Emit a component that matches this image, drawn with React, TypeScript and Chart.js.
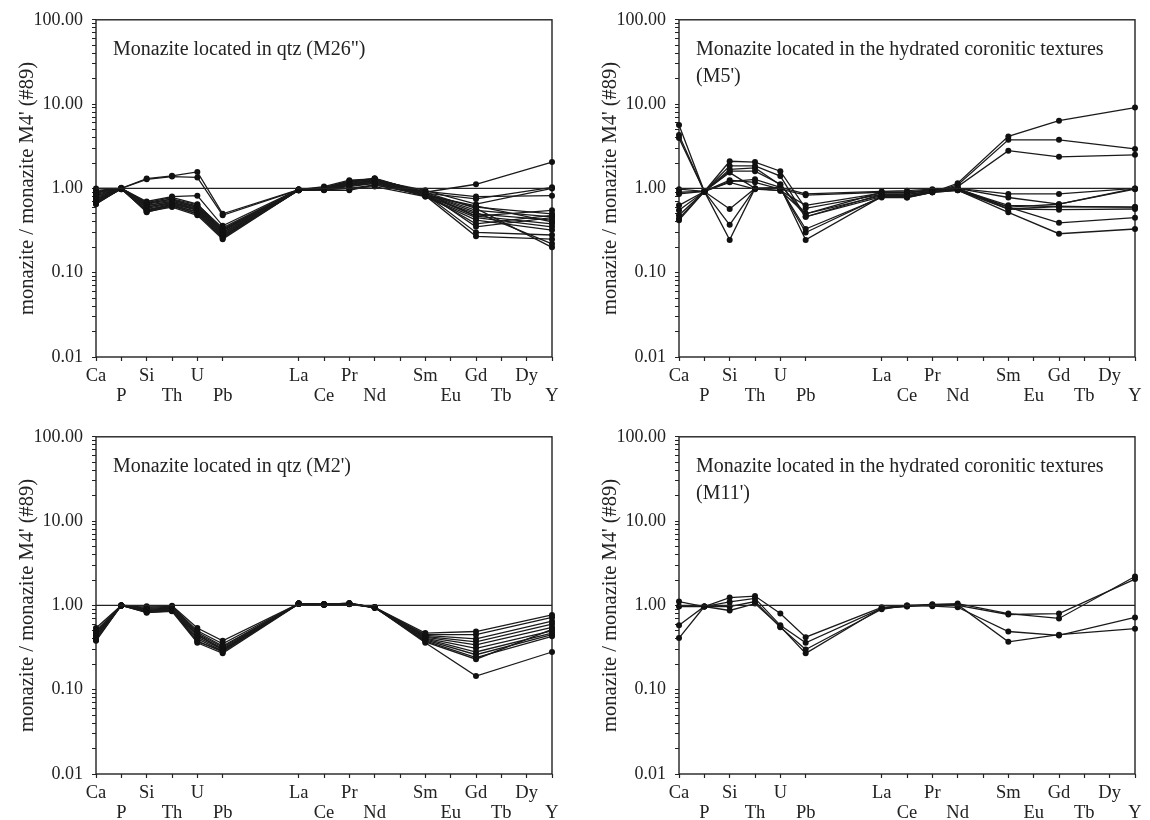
import React, { useEffect, useRef } from 'react';
import { Chart, registerables } from 'chart.js';

Chart.register(...registerables);

// ---- categories / axes ----
const measuredElements = ['Ca', 'P', 'Si', 'Th', 'U', 'Pb', 'La', 'Ce', 'Pr', 'Nd', 'Sm', 'Gd', 'Y'];
const elementPos: Record<string, number> = {
  Ca: 0, P: 1, Si: 2, Th: 3, U: 4, Pb: 5, La: 8, Ce: 9, Pr: 10, Nd: 11,
  Sm: 13, Eu: 14, Gd: 15, Tb: 16, Dy: 17, Y: 18,
};
const xTickPositions = [0, 1, 2, 3, 4, 5, 8, 9, 10, 11, 12, 13, 14, 15, 16, 17, 18];
const upperRowLabels = ['Ca', 'Si', 'U', 'La', 'Pr', 'Sm', 'Gd', 'Dy'];
const lowerRowLabels = ['P', 'Th', 'Pb', 'Ce', 'Nd', 'Eu', 'Tb', 'Y'];
const yMajorTicks = [0.01, 0.1, 1, 10, 100];
const yAxisTitle = "monazite / monazite M4' (#89)";

// ---- series (Ca, P, Si, Th, U, Pb, La, Ce, Pr, Nd, Sm, Gd, Y) ----
const seriesM26 = [
  [1.0, 1.0, 1.31, 1.41, 1.57, 0.5, 0.97, 1.05, 1.25, 1.3, 0.9, 1.12, 2.05],
  [0.95, 1.0, 1.28, 1.38, 1.35, 0.48, 0.96, 1.0, 1.2, 1.32, 0.88, 0.75, 1.03],
  [0.9, 1.0, 0.7, 0.8, 0.82, 0.36, 0.97, 1.0, 1.1, 1.2, 0.92, 0.8, 0.82],
  [0.85, 1.0, 0.68, 0.78, 0.65, 0.33, 0.96, 0.98, 1.15, 1.25, 0.95, 0.65, 1.0],
  [0.8, 1.0, 0.65, 0.72, 0.62, 0.32, 0.95, 0.98, 1.0, 1.1, 0.85, 0.6, 0.5],
  [0.78, 0.98, 0.62, 0.7, 0.6, 0.3, 0.96, 1.02, 1.22, 1.28, 0.87, 0.55, 0.46],
  [0.75, 1.0, 0.6, 0.68, 0.58, 0.3, 0.95, 0.97, 1.05, 1.15, 0.82, 0.5, 0.42],
  [0.72, 1.02, 0.58, 0.66, 0.55, 0.28, 0.97, 0.95, 0.95, 1.1, 0.83, 0.47, 0.38],
  [0.7, 1.0, 0.56, 0.64, 0.52, 0.27, 0.96, 1.0, 1.1, 1.2, 0.8, 0.45, 0.35],
  [0.68, 0.98, 0.54, 0.62, 0.5, 0.26, 0.95, 0.96, 1.0, 1.05, 0.8, 0.42, 0.32],
  [0.66, 1.0, 0.53, 0.6, 0.48, 0.25, 0.96, 1.0, 1.18, 1.3, 0.85, 0.3, 0.28],
  [0.65, 1.0, 0.52, 0.62, 0.5, 0.26, 0.95, 0.98, 1.1, 1.22, 0.82, 0.27, 0.25],
  [0.7, 1.0, 0.55, 0.65, 0.56, 0.28, 0.97, 1.02, 1.2, 1.25, 0.86, 0.52, 0.22],
  [0.82, 1.0, 0.66, 0.75, 0.64, 0.34, 0.96, 1.0, 1.15, 1.22, 0.9, 0.58, 0.2],
  [0.88, 1.0, 0.63, 0.7, 0.6, 0.31, 0.97, 1.0, 1.1, 1.18, 0.88, 0.47, 0.55],
  [0.74, 1.0, 0.6, 0.67, 0.57, 0.29, 0.96, 0.99, 1.12, 1.2, 0.84, 0.38, 0.48],
  [0.92, 1.0, 0.67, 0.74, 0.61, 0.32, 0.96, 1.0, 1.2, 1.3, 0.9, 0.35, 0.45],
  [0.67, 0.99, 0.55, 0.63, 0.53, 0.27, 0.95, 0.98, 1.08, 1.15, 0.83, 0.62, 0.4],
];

const seriesM5 = [
  [5.65, 0.92, 1.85, 1.85, 1.4, 0.46, 0.8, 0.8, 0.9, 1.15, 4.14, 6.35, 9.1],
  [4.3, 0.92, 1.68, 1.75, 1.1, 0.5, 0.82, 0.82, 0.9, 1.1, 3.77, 3.77, 2.94],
  [3.95, 0.92, 2.1, 2.05, 1.6, 0.58, 0.85, 0.85, 0.92, 1.05, 2.8, 2.37, 2.5],
  [0.98, 0.92, 1.2, 1.28, 1.03, 0.86, 0.92, 0.94, 0.98, 1.0, 0.86, 0.86, 1.0],
  [0.86, 0.92, 1.25, 1.18, 0.98, 0.83, 0.9, 0.9, 0.96, 1.0, 0.78, 0.65, 0.98],
  [0.63, 0.92, 1.54, 1.0, 0.94, 0.63, 0.88, 0.88, 0.95, 0.98, 0.63, 0.61, 0.6],
  [0.55, 0.92, 0.57, 1.0, 1.0, 0.33, 0.78, 0.78, 0.9, 0.95, 0.57, 0.56, 0.57],
  [0.48, 0.92, 0.37, 1.0, 1.0, 0.3, 0.8, 0.8, 0.92, 0.96, 0.6, 0.39, 0.45],
  [0.44, 0.92, 0.245, 1.0, 1.03, 0.245, 0.8, 0.78, 0.9, 0.95, 0.52, 0.29, 0.33],
  [0.42, 0.92, 1.18, 0.98, 0.94, 0.5, 0.9, 0.9, 0.95, 1.0, 0.6, 0.65, 1.0],
  [0.9, 0.92, 1.6, 1.6, 1.12, 0.46, 0.85, 0.85, 0.92, 1.0, 0.57, 0.61, 0.6],
];

const seriesM2 = [
  [0.54, 1.0, 0.98, 0.99, 0.54, 0.38, 1.05, 1.03, 1.05, 0.95, 0.47, 0.49, 0.77],
  [0.5, 1.0, 0.95, 0.97, 0.5, 0.35, 1.05, 1.03, 1.06, 0.95, 0.45, 0.45, 0.72],
  [0.48, 1.0, 0.92, 0.95, 0.48, 0.33, 1.04, 1.02, 1.04, 0.94, 0.44, 0.4, 0.65],
  [0.46, 1.0, 0.9, 0.93, 0.46, 0.32, 1.05, 1.03, 1.05, 0.95, 0.43, 0.37, 0.6],
  [0.45, 1.0, 0.88, 0.9, 0.44, 0.31, 1.05, 1.02, 1.03, 0.94, 0.42, 0.34, 0.55],
  [0.43, 1.0, 0.86, 0.88, 0.42, 0.3, 1.04, 1.03, 1.05, 0.95, 0.41, 0.31, 0.5],
  [0.42, 1.0, 0.84, 0.87, 0.4, 0.29, 1.05, 1.02, 1.04, 0.94, 0.4, 0.28, 0.47],
  [0.4, 1.0, 0.83, 0.86, 0.38, 0.28, 1.05, 1.03, 1.06, 0.95, 0.39, 0.26, 0.45],
  [0.38, 1.0, 0.82, 0.85, 0.36, 0.27, 1.04, 1.02, 1.05, 0.94, 0.38, 0.24, 0.43],
  [0.39, 1.0, 0.85, 0.88, 0.37, 0.29, 1.05, 1.03, 1.04, 0.95, 0.37, 0.23, 0.52],
  [0.44, 1.0, 0.87, 0.9, 0.45, 0.3, 1.05, 1.03, 1.05, 0.95, 0.36, 0.145, 0.28],
];

const seriesM11 = [
  [1.11, 0.97, 1.24, 1.29, 0.8, 0.42, 0.95, 1.0, 1.03, 1.05, 0.8, 0.7, 2.2],
  [0.97, 0.97, 1.1, 1.21, 0.58, 0.36, 0.92, 0.98, 1.0, 1.0, 0.78, 0.8, 2.05],
  [0.58, 0.97, 0.97, 1.11, 0.55, 0.3, 0.9, 1.0, 0.98, 0.95, 0.49, 0.44, 0.72],
  [0.41, 0.97, 0.87, 1.05, 0.56, 0.27, 0.93, 0.97, 1.02, 1.02, 0.37, 0.45, 0.53],
];

const panelTitleM26 = ['Monazite located in qtz (M26")'];
const panelTitleM5 = ['Monazite located in the hydrated coronitic textures', "(M5')"];
const panelTitleM2 = ["Monazite located in qtz (M2')"];
const panelTitleM11 = ['Monazite located in the hydrated coronitic textures', "(M11')"];

const FONT = '"Liberation Serif", "Times New Roman", serif';
const INK = '#222';

const framePlugin = {
  id: 'frame',
  beforeDatasetsDraw(chart: any) {
    const { ctx, chartArea } = chart;
    ctx.save();
    ctx.strokeStyle = INK;
    ctx.lineWidth = 1.4;
    ctx.strokeRect(chartArea.left, chartArea.top, chartArea.right - chartArea.left, chartArea.bottom - chartArea.top);
    ctx.restore();
  },
};

const panelTitlePlugin = {
  id: 'panelTitle',
  afterDraw(chart: any, _args: any, opts: any) {
    const lines: string[] = (opts && opts.lines) || [];
    const { ctx, chartArea } = chart;
    ctx.save();
    ctx.fillStyle = INK;
    ctx.font = `20px ${FONT}`;
    ctx.textAlign = 'left';
    ctx.textBaseline = 'alphabetic';
    lines.forEach((t, i) => ctx.fillText(t, chartArea.left + 17, chartArea.top + 35 + i * 27));
    ctx.restore();
  },
};

function xLabel(v: number): string | string[] {
  const name = Object.keys(elementPos).find((k) => elementPos[k] === v);
  if (!name) return '';
  if (upperRowLabels.includes(name)) return name;
  if (lowerRowLabels.includes(name)) return ['', name];
  return '';
}

function buildYTicks() {
  const t: { value: number; major: boolean }[] = [];
  for (let k = -2; k <= 1; k++) {
    for (let m = 1; m <= 9; m++) t.push({ value: m * Math.pow(10, k), major: m === 1 });
  }
  t.push({ value: 100, major: true });
  return t;
}

function Panel({ left, top, title, series }: { left: number; top: number; title: string[]; series: number[][] }) {
  const ref = useRef<HTMLCanvasElement | null>(null);
  useEffect(() => {
    if (!ref.current) return;
    const datasets: any[] = [
      {
        data: [{ x: 0, y: 1 }, { x: 18, y: 1 }],
        borderColor: INK,
        borderWidth: 1.3,
        pointRadius: 0,
        clip: false,
      },
      ...series.map((row) => ({
        data: measuredElements.map((el, i) => ({ x: elementPos[el], y: row[i] })),
        borderColor: '#1a1a1a',
        borderWidth: 1.3,
        pointRadius: 3,
        pointBackgroundColor: '#111',
        pointBorderColor: '#111',
        pointBorderWidth: 0,
        clip: false,
      })),
    ];
    const chart = new Chart(ref.current, {
      type: 'line',
      data: { datasets },
      plugins: [framePlugin, panelTitlePlugin],
      options: {
        animation: false,
        responsive: false,
        devicePixelRatio: 1,
        layout: { padding: { top: 15, right: 13, left: 0, bottom: 0 } },
        elements: { line: { tension: 0 } },
        plugins: {
          legend: { display: false },
          tooltip: { enabled: false },
          panelTitle: { lines: title },
        } as any,
        scales: {
          x: {
            type: 'linear',
            min: 0,
            max: 18,
            afterBuildTicks: (s: any) => {
              s.ticks = xTickPositions.map((v) => ({ value: v }));
            },
            afterFit: (s: any) => {
              s.height = 46;
            },
            ticks: {
              autoSkip: false,
              maxRotation: 0,
              minRotation: 0,
              padding: 5,
              color: INK,
              font: { family: FONT, size: 18.5, lineHeight: 1.1 },
              callback: (v: any) => xLabel(Number(v)),
            },
            grid: {
              display: true,
              drawOnChartArea: false,
              drawTicks: true,
              tickLength: 4,
              tickColor: INK,
              tickWidth: 1.2,
            },
            border: { display: false },
          },
          y: {
            type: 'logarithmic',
            min: 0.01,
            max: 100,
            afterBuildTicks: (s: any) => {
              s.ticks = buildYTicks();
            },
            afterFit: (s: any) => {
              s.width = 96;
            },
            ticks: {
              autoSkip: false,
              padding: 9,
              color: INK,
              font: { family: FONT, size: 18 },
              callback: (v: any) => {
                const n = Number(v);
                return yMajorTicks.some((m) => Math.abs(m - n) / m < 1e-6) ? n.toFixed(2) : '';
              },
            },
            title: {
              display: true,
              text: yAxisTitle,
              color: INK,
              font: { family: FONT, size: 20.5 },
              padding: { top: 15, bottom: 0 },
            },
            grid: {
              display: true,
              drawOnChartArea: false,
              drawTicks: true,
              tickLength: 4,
              tickColor: INK,
              tickWidth: 1,
            },
            border: { display: false },
          },
        },
      } as any,
    });
    return () => chart.destroy();
  }, []);
  return (
    <canvas
      ref={ref}
      width={565}
      height={403}
      style={{ position: 'absolute', left, top, width: 565, height: 403 }}
    />
  );
}

export default function App() {
  return (
    <div style={{ position: 'fixed', left: 0, top: 0, width: 1150, height: 820, background: '#fff' }}>
      <Panel left={0} top={0} title={panelTitleM26} series={seriesM26} />
      <Panel left={583} top={0} title={panelTitleM5} series={seriesM5} />
      <Panel left={0} top={417} title={panelTitleM2} series={seriesM2} />
      <Panel left={583} top={417} title={panelTitleM11} series={seriesM11} />
    </div>
  );
}
